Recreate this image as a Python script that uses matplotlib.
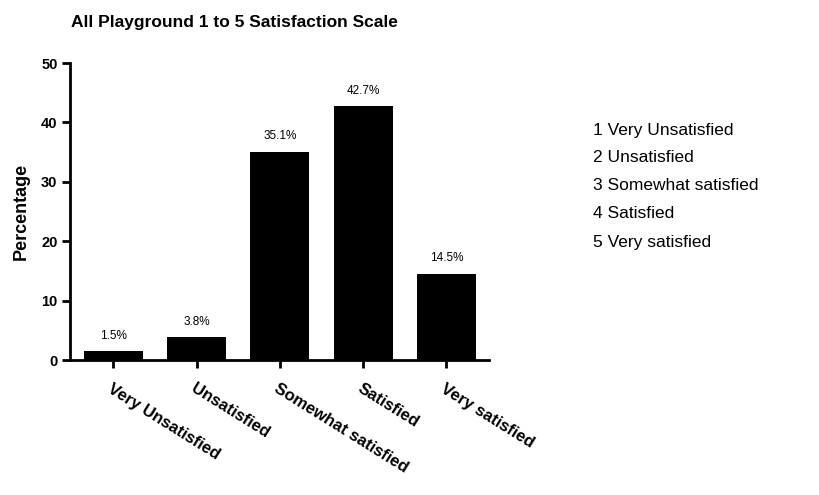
import matplotlib

matplotlib.use("Agg")
import matplotlib.pyplot as plt
import numpy as np

plt.rcParams["font.family"] = ["Liberation Sans", "DejaVu Sans"]

categories = ["Very Unsatisfied", "Unsatisfied", "Somewhat satisfied", "Satisfied", "Very satisfied"]
percentages = [1.5, 3.8, 35.1, 42.7, 14.5]
value_labels = ["1.5%", "3.8%", "35.1%", "42.7%", "14.5%"]
scale_notes = ["1 Very Unsatisfied", "2 Unsatisfied", "3 Somewhat satisfied", "4 Satisfied", "5 Very satisfied"]
y_ticks = [0, 10, 20, 30, 40, 50]

fig = plt.figure(figsize=(8.2, 4.95), dpi=100)
ax = fig.add_axes([0.0854, 0.2727, 0.5107, 0.6])

x = np.arange(len(categories))
ax.bar(x, percentages, width=0.71, color="black")
for xi, val, lab in zip(x, percentages, value_labels):
    ax.text(xi, val + 1.6, lab, ha="center", va="bottom", fontsize=8.5)

ax.set_xlim(-0.52, 4.51)
ax.set_ylim(0, 50)
ax.set_yticks(y_ticks)
ax.set_yticklabels([str(t) for t in y_ticks], fontsize=10.5, fontweight="bold")
ax.set_xticks(x)
ax.set_xticklabels(categories, fontsize=12, fontweight="bold", rotation=-32,
                   ha="left", va="top", rotation_mode="anchor")
ax.tick_params(axis="both", direction="out", length=6, width=2)
ax.tick_params(axis="x", pad=9)
ax.tick_params(axis="y", pad=3)
for side in ("top", "right"):
    ax.spines[side].set_visible(False)
for side in ("left", "bottom"):
    ax.spines[side].set_linewidth(2)

ax.set_ylabel("Percentage", fontsize=13, fontweight="bold", labelpad=8)

fig.text(0.087, 0.955, "All Playground 1 to 5 Satisfaction Scale", fontsize=12.5,
         fontweight="bold", ha="left", va="center")

for i, note in enumerate(scale_notes):
    fig.text(0.723, 1 - (130 + 28 * i) / 495, note, fontsize=12.5, ha="left", va="center")

fig.savefig("out.png", dpi=100)
